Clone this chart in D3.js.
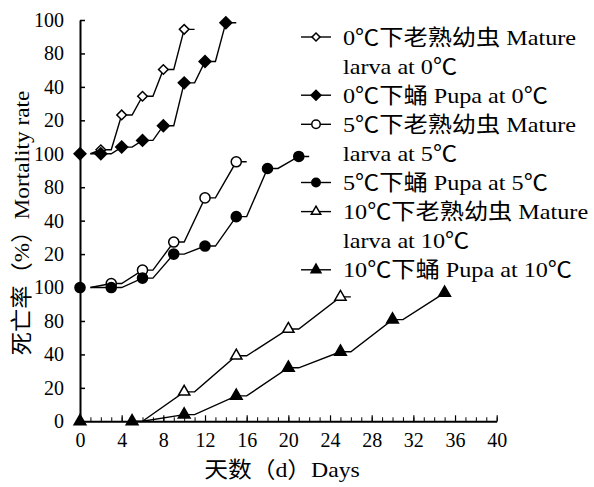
<!DOCTYPE html>
<html lang="zh">
<head>
<meta charset="UTF-8">
<title>Mortality rate</title>
<style>
  body { margin: 0; background: #fff; }
  svg text { font-family: "Liberation Serif", "Times New Roman", "Noto Sans CJK SC", serif; fill: #000; }
  .axis path, .axis line { stroke: #000; }
</style>
</head>
<body>
<svg></svg>
<script src="https://cdn.jsdelivr.net/npm/d3@7/dist/d3.min.js"></script>
<script>
// x axis (days)
const xTickLabels = [0, 4, 8, 12, 16, 20, 24, 28, 32, 36, 40];
// y axis: three stacked panels of 0-100, tick labels as printed
const yTickPos = [0, 25, 50, 75, 100, 125, 150, 175, 200, 225, 250, 275, 300];
const yTickLabels = ["0", "20", "40", "80", "100", "20", "40", "80", "100", "20", "40", "80", "100"];

// 0℃ mature larva (top panel)
const larva0MarkDays = [2, 4, 6, 8, 10];
const larva0MarkVals = [3, 29, 43, 63, 93];
const larva0LineDays = [1, 2, 3, 4, 5, 6, 7, 8, 9, 10, 11];
const larva0LineVals = [0, 3, 3, 29, 29, 43, 43, 63, 63, 93, 93];
// 0℃ pupa
const pupa0MarkDays = [0, 2, 4, 6, 8, 10, 12, 14];
const pupa0MarkVals = [0, 0, 5, 10, 21, 53, 69, 98];
const pupa0LineDays = [1, 2, 3, 4, 5, 6, 7, 8, 9, 10, 11, 12, 13, 14, 15];
const pupa0LineVals = [0, 0, 0, 5, 5, 10, 10, 21, 21, 53, 53, 69, 69, 98, 98];

// 5℃ mature larva (middle panel)
const larva5MarkDays = [3, 6, 9, 12, 15];
const larva5MarkVals = [3, 13, 34, 67, 94];
const larva5LineDays = [1, 3, 4, 6, 7, 9, 10, 12, 13, 15, 16];
const larva5LineVals = [0, 3, 3, 13, 13, 34, 34, 67, 67, 94, 94];
// 5℃ pupa
const pupa5MarkDays = [0, 3, 6, 9, 12, 15, 18, 21];
const pupa5MarkVals = [0, 0, 7, 25, 31, 53, 89, 98];
const pupa5LineDays = [1, 3, 4, 6, 7, 9, 10, 12, 13, 15, 16, 18, 19, 21, 22];
const pupa5LineVals = [0, 0, 0, 7, 7, 25, 25, 31, 31, 53, 53, 89, 89, 98, 98];

// 10℃ mature larva (bottom panel)
const larva10MarkDays = [10, 15, 20, 25];
const larva10MarkVals = [22, 49, 69, 93];
const larva10LineDays = [6, 10, 11, 15, 16, 20, 21, 25, 26];
const larva10LineVals = [0, 22, 22, 49, 49, 69, 69, 93, 93];
// 10℃ pupa
const pupa10MarkDays = [0, 5, 10, 15, 20, 25, 30, 35];
const pupa10MarkVals = [0, 0, 5, 19, 40, 52, 76, 96];
const pupa10LineDays = [5, 6, 10, 11, 15, 16, 20, 21, 25, 26, 30, 31, 35];
const pupa10LineVals = [0, 0, 5, 5, 19, 19, 40, 40, 52, 52, 76, 76, 96];

const legendLabels = [
  "0℃下老熟幼虫 Mature", "larva at 0℃", "0℃下蛹 Pupa at 0℃",
  "5℃下老熟幼虫 Mature", "larva at 5℃", "5℃下蛹 Pupa at 5℃",
  "10℃下老熟幼虫 Mature", "larva at 10℃", "10℃下蛹 Pupa at 10℃"
];
// which series each legend row shows (-1 = continuation line)
const legendSeries = [0, -1, 1, 2, -1, 3, 4, -1, 5];

const width = 594, height = 487;
const FONT = '"Liberation Serif", "Times New Roman", "Noto Sans CJK SC", serif';
const svg = d3.select("svg").attr("width", width).attr("height", height);

const x = d3.scaleLinear().domain([0, 40]).range([80, 496.7]);
const y = d3.scaleLinear().domain([0, 300]).range([421.3, 20]);

const series = [
  { md: larva0MarkDays, mv: larva0MarkVals, ld: larva0LineDays, lv: larva0LineVals, base: 200, sym: "diamond", fill: "#fff", size: 46 },
  { md: pupa0MarkDays, mv: pupa0MarkVals, ld: pupa0LineDays, lv: pupa0LineVals, base: 200, sym: "diamond", fill: "#000", size: 70 },
  { md: larva5MarkDays, mv: larva5MarkVals, ld: larva5LineDays, lv: larva5LineVals, base: 100, sym: "circle", fill: "#fff", size: 80 },
  { md: pupa5MarkDays, mv: pupa5MarkVals, ld: pupa5LineDays, lv: pupa5LineVals, base: 100, sym: "circle", fill: "#000", size: 80 },
  { md: larva10MarkDays, mv: larva10MarkVals, ld: larva10LineDays, lv: larva10LineVals, base: 0, sym: "triangle", fill: "#fff", size: 55 },
  { md: pupa10MarkDays, mv: pupa10MarkVals, ld: pupa10LineDays, lv: pupa10LineVals, base: 0, sym: "triangle", fill: "#000", size: 60 }
];

function symPath(s, size) {
  const t = s === "diamond" ? d3.symbolSquare : s === "circle" ? d3.symbolCircle : d3.symbolTriangle;
  return d3.symbol().type(t).size(size)();
}

// axes
const yAxis = d3.axisLeft(y)
  .tickValues(yTickPos)
  .tickFormat((d, i) => yTickLabels[i])
  .tickSizeInner(-5).tickSizeOuter(0).tickPadding(16);
const gy = svg.append("g").attr("class", "axis").attr("transform", "translate(80,0)").call(yAxis);
gy.attr("font-family", FONT);
gy.select(".domain").attr("stroke-width", 2);
gy.selectAll("line").attr("stroke-width", 1.5);
gy.selectAll("text").attr("font-size", 20).style("font-family", FONT);

svg.append("g").attr("class", "axis")
  .attr("transform", "translate(0,421.3)")
  .call(d3.axisBottom(x).tickValues(d3.range(0, 41)).tickSizeInner(-4).tickSizeOuter(0).tickFormat(""))
  .call(g => g.select(".domain").attr("stroke-width", 2));

const gx = svg.append("g").attr("class", "axis")
  .attr("transform", "translate(0,421.3)")
  .call(d3.axisBottom(x).tickValues(xTickLabels).tickSizeInner(-6).tickSizeOuter(0).tickPadding(12));
gx.attr("font-family", FONT);
gx.select(".domain").remove();
gx.selectAll("line").attr("stroke-width", 1.2);
gx.selectAll("text").attr("font-size", 20).style("font-family", FONT);

// lines
const line = d3.line().x(d => x(d[0])).y(d => y(d[1]));
series.forEach(s => {
  svg.append("path")
    .datum(s.ld.map((d, i) => [d, s.lv[i] + s.base]))
    .attr("d", line)
    .attr("fill", "none")
    .attr("stroke", "#000")
    .attr("stroke-width", 1.4);
});

// markers
series.forEach(s => {
  svg.append("g").selectAll("path")
    .data(s.md.map((d, i) => [d, s.mv[i] + s.base]))
    .join("path")
    .attr("d", symPath(s.sym, s.size))
    .attr("transform", d => `translate(${x(d[0])},${y(d[1])})` + (s.sym === "diamond" ? " rotate(45)" : ""))
    .attr("fill", s.fill)
    .attr("stroke", "#000")
    .attr("stroke-width", 1.5);
});

// axis titles
svg.append("text")
  .attr("transform", "translate(29,223) rotate(-90) scale(1.06,1)")
  .attr("text-anchor", "middle")
  .attr("font-size", 22)
  .text("死亡率（%）Mortality rate");

svg.append("text")
  .attr("transform", "translate(282,477) scale(1.08,1)")
  .attr("text-anchor", "middle")
  .attr("font-size", 22)
  .text("天数（d）Days");

// legend
const lg = svg.append("g");
legendLabels.forEach((lab, i) => {
  const cy = 37 + i * 29.1;
  const si = legendSeries[i];
  if (si >= 0) {
    const s = series[si];
    lg.append("line").attr("x1", 301).attr("x2", 331).attr("y1", cy).attr("y2", cy)
      .attr("stroke", "#000").attr("stroke-width", 1.4);
    lg.append("path")
      .attr("d", symPath(s.sym, s.size * 0.7))
      .attr("transform", `translate(316,${cy})` + (s.sym === "diamond" ? " rotate(45)" : ""))
      .attr("fill", s.fill).attr("stroke", "#000").attr("stroke-width", 1.5);
  }
  lg.append("text")
    .attr("transform", `translate(343,${cy + 7.5}) scale(1.1,1)`)
    .attr("font-size", 22)
    .text(lab);
});
</script>
</body>
</html>
